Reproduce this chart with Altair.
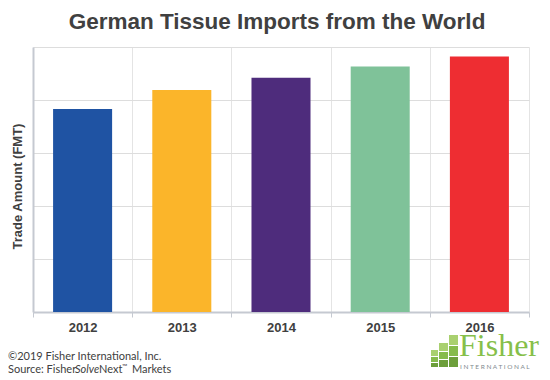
import altair as alt
import pandas as pd

years = ["2012", "2013", "2014", "2015", "2016"]
values = [3.83, 4.19, 4.42, 4.63, 4.82]
colors = ["#1f53a3", "#fbb52a", "#4e2c7c", "#7fc299", "#ee2d32"]

footer1 = ["©2019 Fisher International, Inc."]
footer2_parts = ["Source: Fisher", "Solve", "Next", "™", "Markets"]
logo_main = ["Fisher"]
logo_sub = [" ".join("INTERNATIONAL")]

df = pd.DataFrame({"year": years, "value": values, "color": colors})

FONT = "Liberation Sans"
GRAY = "#404040"
AXC = "#c5c9d1"

bars = alt.Chart(df).mark_bar(width=alt.RelativeBandSize(0.595)).encode(
    x=alt.X("year:N", sort=years,
            scale=alt.Scale(paddingInner=0, paddingOuter=0),
            axis=alt.Axis(title=None, labelAngle=0, labelFont=FONT, labelFontWeight="bold",
                          labelFontSize=13, labelColor=GRAY, labelPadding=4,
                          ticks=True, tickBand="extent", tickColor=AXC, tickSize=5,
                          domainColor=AXC, domainWidth=2, grid=True, gridColor="#e4e4e4")),
    y=alt.Y("value:Q", scale=alt.Scale(domain=[0, 5], nice=False),
            axis=alt.Axis(title="Trade Amount (FMT)", labels=False, ticks=False,
                          tickCount=5, grid=True, gridColor="#dddddd",
                          domainColor=AXC, domainWidth=2,
                          titleFont=FONT, titleFontSize=13, titleFontWeight="bold",
                          titleColor=GRAY, titleX=-16, titleY=139,
                          titleAlign="center", titleBaseline="middle")),
    color=alt.Color("color:N", scale=None),
)

def txt(s, x, y, **kw):
    return alt.Chart(pd.DataFrame({"t": [s]})).mark_text(
        align="left", baseline="alphabetic", **kw
    ).encode(text="t:N", x=alt.value(x), y=alt.value(y))

def block(x1, x2, y1, y2, c):
    return alt.Chart(pd.DataFrame({"k": [0]})).mark_rect(color=c).encode(
        x=alt.value(x1 - 33), x2=alt.value(x2 - 33),
        y=alt.value(y1 - 47), y2=alt.value(y2 - 47))

FF = "Lato"
FS = 11
logo_blocks = [
    block(431, 438, 350, 356, "#a9d06f"), block(431, 438, 357, 362, "#86bb4c"), block(431, 438, 363, 367, "#6d9f3b"),
    block(439, 448, 343, 351, "#a9d06f"), block(439, 448, 352, 359, "#86bb4c"), block(439, 448, 360, 367, "#6d9f3b"),
    block(449, 458, 335, 345, "#a9d06f"), block(449, 458, 346, 356, "#86bb4c"), block(449, 458, 357, 367, "#6d9f3b"),
]
layers = [bars,
          txt(footer1[0], -25, 313, font=FF, fontSize=FS, color=GRAY),
          txt(footer2_parts[0], -25, 326, font=FF, fontSize=FS, color=GRAY),
          txt(footer2_parts[1], 42, 326, font=FF, fontSize=FS, fontStyle="italic", color=GRAY),
          txt(footer2_parts[2], 66, 326, font=FF, fontSize=FS, color=GRAY),
          txt(footer2_parts[3], 89, 322, font=FF, fontSize=7, color=GRAY),
          txt(footer2_parts[4], 99, 326, font=FF, fontSize=FS, color=GRAY),
          txt(logo_main[0], 426, 309, font="Liberation Serif", fontSize=32, color="#86bf4a"),
          txt(logo_sub[0], 427, 322, font=FF, fontSize=6.5, color="#7f8a8f"),
          ] + logo_blocks

chart = alt.layer(*layers).properties(
    width=496, height=265,
    title=alt.Title("German Tissue Imports from the World", font=FONT, fontSize=22.5,
                    fontWeight="bold", color=GRAY, anchor="middle", offset=14, dx=-4),
    autosize=alt.AutoSizeParams(type="none"),
    padding={"left": 25, "top": 39, "right": 13, "bottom": 68},
).configure_view(stroke=None)

chart.save("out.html", embed_options={"renderer": "svg", "actions": False})
